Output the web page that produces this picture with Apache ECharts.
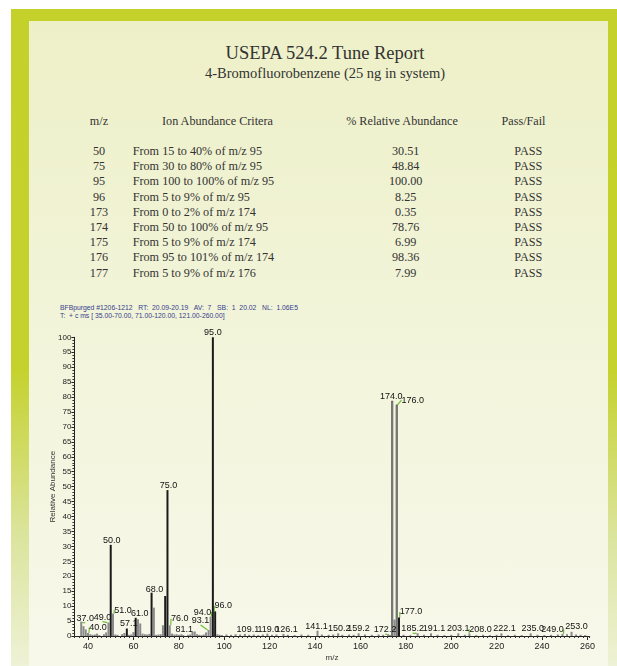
<!DOCTYPE html>
<html>
<head>
<meta charset="utf-8">
<script src="https://cdn.jsdelivr.net/npm/echarts@6/dist/echarts.min.js"></script>
<style>
  body { margin: 0; width: 617px; height: 666px; overflow: hidden; background: #fff; position: relative; color: #333; font-family: "Liberation Serif", serif; }
  #frame { position: absolute; left: 11px; top: 9px; right: 0; bottom: 0;
    background: linear-gradient(to bottom, #c4d12a 0%, #c5d22e 55%, #dbe49c 80%, #eef2d6 100%); }
  #panel { position: absolute; left: 29px; top: 21px; width: 579px; bottom: 0;
    background: linear-gradient(to bottom, #edf0c7 0%, #f2f4d9 45%, #f7f8ea 100%); }
  .t { position: absolute; white-space: pre; height: 16px; line-height: 16px; }
  .c { text-align: center; width: 240px; }
  .hdr { font-family: "Liberation Sans", sans-serif; font-size: 6.8px; color: #34408c; height: 9px; line-height: 9px; }
  #chart { position: absolute; left: 0; top: 0; width: 617px; height: 666px; }
</style>
</head>
<body>
<div id="frame"></div>
<div id="panel"></div>
<div id="texts"></div>
<div id="chart"></div>
<script>
// table
const tableMz = ["50", "75", "95", "96", "173", "174", "175", "176", "177"];
const criteria = [
  "From 15 to 40% of m/z 95", "From 30 to 80% of m/z 95", "From 100 to 100% of m/z 95",
  "From 5 to 9% of m/z 95", "From 0 to 2% of m/z 174", "From 50 to 100% of m/z 95",
  "From 5 to 9% of m/z 174", "From 95 to 101% of m/z 174", "From 5 to 9% of m/z 176"
];
const relAbundance = ["30.51", "48.84", "100.00", "8.25", "0.35", "78.76", "6.99", "98.36", "7.99"];
const passFail = ["PASS", "PASS", "PASS", "PASS", "PASS", "PASS", "PASS", "PASS", "PASS"];
const headers = ["m/z", "Ion Abundance Critera", "% Relative Abundance", "Pass/Fail"];

// spectrum
const peakMz = [37, 38, 39, 40, 41, 42, 43, 44, 45, 47, 48, 49, 50, 51, 52, 53, 55, 56, 57.1, 58, 59, 60,
  61, 62, 63, 64, 65, 66, 67, 68, 69, 70, 71, 72, 73, 74, 75, 76, 77, 78, 79, 80, 81.1, 82, 84, 85,
  86, 87, 88, 89, 90, 91, 92, 93.1, 94, 95, 96, 97, 98, 99, 101, 103, 105, 107, 109.1, 111, 113, 115,
  117, 119, 121, 123, 126.1, 128, 131, 134, 137, 141.1, 143, 146, 148, 150.2, 152, 155, 157, 159.2,
  162, 165, 168, 170, 172.2, 173, 174, 175, 176, 177, 179, 182, 185.2, 188, 191.1, 194, 197, 200,
  203.1, 206, 208, 211, 214, 217, 220, 222.1, 225, 228, 231, 235, 238, 241, 244, 247, 249, 251,
  253, 255, 257, 259];
const peakAbund = [4.8, 3.3, 2.2, 1.0, 0.6, 0.4, 0.5, 0.8, 0.3, 0.6, 1.2, 4.5, 30.51, 7.5, 0.5, 0.4, 0.6, 1.0, 2.5, 0.4, 0.5, 1.3,
  6.1, 5.6, 4.2, 0.8, 0.6, 0.5, 0.7, 14.5, 9.5, 0.4, 0.5, 0.6, 3.6, 13.4, 48.84, 3.6, 0.8, 0.5, 0.6, 0.4, 0.6, 0.3, 0.4, 0.5,
  1.4, 1.5, 0.6, 0.4, 0.3, 0.5, 1.2, 2.0, 6.5, 100, 8.25, 0.6, 0.4, 0.3, 0.5, 0.4, 0.6, 0.5, 0.7, 0.4, 0.5, 0.3,
  0.5, 0.8, 0.4, 0.5, 0.7, 0.4, 0.3, 0.5, 0.4, 1.8, 0.5, 0.4, 0.5, 0.9, 0.4, 0.5, 0.4, 0.9,
  0.5, 0.4, 0.5, 0.4, 0.6, 0.35, 78.76, 5.5, 77.47, 6.2, 0.4, 0.3, 0.9, 0.4, 0.9, 0.4, 0.3, 0.4,
  0.9, 0.4, 0.8, 0.3, 0.4, 0.3, 0.4, 0.9, 0.3, 0.4, 0.3, 0.9, 0.4, 0.3, 0.4, 0.5, 0.7, 0.6,
  1.4, 0.5, 0.4, 0.3];
const labelledMz = [37, 40, 49, 50, 51, 57.1, 61, 68, 75, 76, 81.1, 93.1, 94, 95, 96, 109.1, 119, 126.1,
  141.1, 150.2, 159.2, 172.2, 174, 176, 177, 185.2, 191.1, 203.1, 208, 222.1, 235, 249, 253];
const xTicks = [40, 60, 80, 100, 120, 140, 160, 180, 200, 220, 240, 260];

// label nudges (px) and which labels get a green guide line
const labelShift = {
  37: [4, 1], 40: [10, -1], 49: [-6, -1], 50: [1, 0], 51: [10, 1], 57.1: [2, -1], 61: [4, 0], 68: [3, 1],
  75: [1, 0], 76: [10, -2], 81.1: [3, 0], 93.1: [-8, -5], 94: [-8, 0], 96: [8, -1], 109.1: [3, 0],
  119: [1, 0], 126.1: [3, 0], 141.1: [-1, 0], 150.2: [1, 0], 172.2: [-3, 0], 174: [-1, 0],
  176: [16, 0], 177: [12, -1], 185.2: [-5, 0], 191.1: [3, 0], 208: [11, 0], 222.1: [3, 0],
  235: [2, 0], 249: [-10, 0], 253: [5, -1]
};
const guided = [37, 40, 49, 51, 76, 93.1, 94, 96, 119, 172.2, 176, 177, 185.2, 208, 249];
const darkPeaks = [50, 57.1, 61, 68, 74, 75, 95, 96, 177];

function put(text, x, y, cls, style) {
  const d = document.createElement("div");
  d.className = "t " + (cls || "");
  d.textContent = text;
  Object.assign(d.style, style || {});
  d.style.left = x + "px";
  d.style.top = y + "px";
  document.getElementById("texts").appendChild(d);
  return d;
}

put("USEPA 524.2 Tune Report", 325 - 120, 53 - 12, "c", { fontSize: "18.5px", height: "24px", lineHeight: "24px" });
put("4-Bromofluorobenzene (25 ng in system)", 325 - 120, 73 - 10, "c", { fontSize: "14.5px", height: "20px", lineHeight: "20px" });

const fs = "12.2px";
put(headers[0], 99 - 120, 121 - 8, "c", { fontSize: fs });
put(headers[1], 217.5 - 120, 121 - 8, "c", { fontSize: fs });
put(headers[2], 402 - 120, 121 - 8, "c", { fontSize: fs });
put(headers[3], 523.5 - 120, 121 - 8, "c", { fontSize: fs });
tableMz.forEach((m, i) => {
  const y = 151 + i * 15.2 - 8;
  put(m, 99 - 120, y, "c", { fontSize: fs });
  put(criteria[i], 132.7, y, "", { fontSize: fs });
  put(relAbundance[i], 405.7 - 120, y, "c", { fontSize: fs });
  put(passFail[i], 528.3 - 120, y, "c", { fontSize: fs });
});

put("BFBpurged #1206-1212   RT:  20.09-20.19   AV:  7   SB:  1  20.02   NL:  1.06E5", 60, 302.5, "hdr");
put("T:  + c ms [ 35.00-70.00, 71.00-120.00, 121.00-260.00]", 60, 310.5, "hdr");

const chart = echarts.init(document.getElementById("chart"));

const barData = peakMz.map((mz, i) => {
  const lab = labelledMz.includes(mz);
  let color = darkPeaks.includes(mz) ? "#1a1a1a" : "#8a8a8a";
  const item = {
    value: [mz, peakAbund[i]],
    itemStyle: { color: color }
  };
  if (mz === 174 || mz === 176) {
    item.itemStyle = { color: "#8c8c8c", borderColor: "#444", borderWidth: 0.6 };
  }
  item.label = { show: lab, formatter: mz.toFixed(1) };
  item.labelLine = { show: guided.includes(mz) };
  return item;
});

const sans = "Liberation Sans";
const option = {
  animation: false,
  grid: [
    { left: 74.4, right: 27.3, top: 337.3, bottom: 30 },
    { left: 74.4, right: 27.3, top: 337.3, bottom: 30 }
  ],
  xAxis: [
    {
      type: "value", gridIndex: 0, min: 34, max: 261,
      name: "m/z", nameLocation: "middle", nameGap: 18, nameMoveOverlap: false,
      nameTextStyle: { fontFamily: sans, fontSize: 8, color: "#333" },
      axisLine: { lineStyle: { color: "#222", width: 1 } },
      axisTick: { length: 4, customValues: xTicks, lineStyle: { color: "#222" } },
      axisLabel: { customValues: xTicks, fontFamily: sans, fontSize: 9, color: "#222", margin: 6 },
      splitLine: { show: false }
    },
    {
      type: "value", gridIndex: 1, min: 34, max: 261, interval: 2,
      axisLine: { show: false },
      axisTick: { length: 2, lineStyle: { color: "#333" } },
      axisLabel: { show: false },
      splitLine: { show: false }
    }
  ],
  yAxis: [
    {
      type: "value", gridIndex: 0, min: 0, max: 100, interval: 5,
      name: "Relative Abundance", nameLocation: "middle", nameGap: 18, nameRotate: 90, nameMoveOverlap: false,
      nameTextStyle: { fontFamily: sans, fontSize: 8, color: "#333" },
      axisLine: { show: true, lineStyle: { color: "#222", width: 1 } },
      axisTick: { show: true, length: 3, lineStyle: { color: "#222" } },
      minorTick: { show: true, splitNumber: 5, length: 2, lineStyle: { color: "#333" } },
      axisLabel: { fontFamily: sans, fontSize: 8, color: "#222", margin: 3 },
      splitLine: { show: false }
    },
    {
      type: "value", gridIndex: 1, min: 0, max: 100, show: false
    }
  ],
  series: [
    {
      type: "bar",
      xAxisIndex: 0, yAxisIndex: 0,
      barWidth: 2,
      data: barData,
      label: { position: "top", distance: 0, fontFamily: sans, fontSize: 9, color: "#111" },
      labelLine: { show: false, length2: 0, lineStyle: { color: "#6fbf3a", width: 1.2 } },
      labelLayout: function (p) {
        const s = labelShift[peakMz[p.dataIndex]];
        return s ? { dx: s[0], dy: s[1] } : {};
      }
    }
  ]
};
chart.setOption(option);
</script>
</body>
</html>
